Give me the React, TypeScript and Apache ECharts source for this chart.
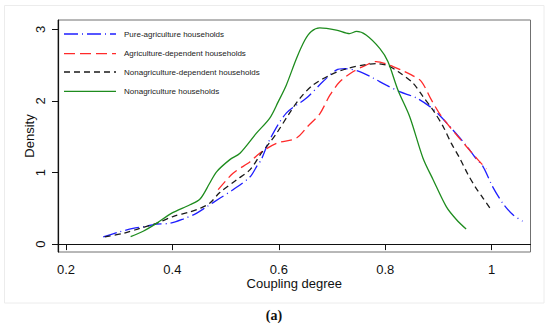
import { useEffect, useRef } from 'react';
import * as echarts from 'echarts';

const xTicks = [0.2, 0.4, 0.6, 0.8, 1];
const yTicks = [0, 1, 2, 3];

const seriesNames = [
  'Pure-agriculture households',
  'Agriculture-dependent households',
  'Nonagriculture-dependent households',
  'Nonagriculture households',
];

const pureAgri = [
  [0.270, 0.10], [0.300, 0.17], [0.326, 0.22], [0.348, 0.245], [0.370, 0.28], [0.395, 0.29],
  [0.420, 0.35], [0.445, 0.43], [0.464, 0.52], [0.489, 0.64], [0.514, 0.76], [0.546, 0.94],
  [0.558, 1.08], [0.567, 1.18], [0.583, 1.46], [0.614, 1.83], [0.652, 2.04], [0.683, 2.27],
  [0.708, 2.43], [0.724, 2.45], [0.752, 2.41], [0.777, 2.32], [0.802, 2.22], [0.827, 2.13],
  [0.859, 2.04], [0.884, 1.92], [0.902, 1.80], [0.924, 1.62], [0.952, 1.38], [0.968, 1.22],
  [0.984, 1.08], [1.002, 0.80], [1.021, 0.57], [1.040, 0.41], [1.058, 0.32],
];

const agriDep = [
  [0.486, 0.76], [0.514, 0.99], [0.546, 1.15], [0.564, 1.27], [0.596, 1.41], [0.633, 1.48],
  [0.655, 1.65], [0.677, 1.82], [0.696, 2.08], [0.715, 2.27], [0.740, 2.41], [0.764, 2.50],
  [0.783, 2.55], [0.808, 2.50], [0.830, 2.43], [0.850, 2.36], [0.868, 2.27], [0.887, 2.01],
  [0.906, 1.78], [0.937, 1.50], [0.974, 1.18], [0.990, 1.05],
];

const nonagriDep = [
  [0.273, 0.10], [0.308, 0.15], [0.339, 0.22], [0.370, 0.29], [0.401, 0.385], [0.433, 0.45],
  [0.452, 0.50], [0.470, 0.57], [0.489, 0.72], [0.521, 0.90], [0.546, 1.04], [0.567, 1.27],
  [0.583, 1.42], [0.596, 1.55], [0.621, 1.84], [0.640, 2.04], [0.664, 2.22], [0.696, 2.36],
  [0.727, 2.45], [0.758, 2.50], [0.783, 2.52], [0.802, 2.50], [0.824, 2.41], [0.852, 2.25],
  [0.871, 2.06], [0.890, 1.87], [0.909, 1.64], [0.924, 1.41], [0.940, 1.20], [0.955, 0.98],
  [0.970, 0.79], [0.984, 0.64], [0.998, 0.49],
];

const nonagri = [
  [0.3215, 0.106], [0.345, 0.18], [0.370, 0.29], [0.398, 0.43], [0.433, 0.55], [0.452, 0.63],
  [0.470, 0.85], [0.483, 1.01], [0.508, 1.18], [0.527, 1.27], [0.558, 1.55], [0.583, 1.76],
  [0.599, 1.99], [0.614, 2.22], [0.633, 2.59], [0.649, 2.85], [0.661, 2.97], [0.677, 3.02],
  [0.708, 2.99], [0.733, 2.94], [0.746, 2.97], [0.764, 2.92], [0.790, 2.73], [0.805, 2.55],
  [0.824, 2.15], [0.846, 1.78], [0.871, 1.20], [0.890, 0.90], [0.915, 0.52], [0.934, 0.34],
  [0.952, 0.21],
];

const seriesData = [pureAgri, agriDep, nonagriDep, nonagri];
const colors = ['#1f1fff', '#ff2a2a', '#1a1a1a', '#1e8c1e'];
const dashes: (number[] | 'solid')[] = [[14, 4, 1, 4], [11, 5], [6, 4], 'solid'];

export default function App() {
  const ref = useRef<HTMLDivElement>(null);
  useEffect(() => {
    document.body.style.margin = '0';
    const chart = echarts.init(ref.current!, null, { renderer: 'svg' });
    const font = 'Liberation Sans, Arial, sans-serif';
    const legendRows = [34, 53.7, 72, 91.3];
    const legendGraphics: any[] = [];
    seriesNames.forEach((name, i) => {
      const d = dashes[i];
      legendGraphics.push({
        type: 'line',
        shape: { x1: 64, y1: legendRows[i], x2: 116, y2: legendRows[i] },
        style: {
          stroke: colors[i],
          lineWidth: 1.3,
          lineDash: d === 'solid' ? null : d,
        },
        z: 10,
      });
      legendGraphics.push({
        type: 'text',
        x: 124,
        y: legendRows[i],
        style: {
          text: name,
          fill: '#222',
          font: `8px ${font}`,
          verticalAlign: 'middle',
          align: 'left',
        },
        z: 10,
      });
    });
    chart.setOption({
      animation: false,
      backgroundColor: '#fff',
      grid: {
        left: 58,
        right: 19.5,
        top: 20,
        bottom: 77,
        show: true,
        borderColor: '#707070',
        borderWidth: 1,
        backgroundColor: 'transparent',
      },
      xAxis: {
        type: 'value',
        min: 0.185,
        max: 1.073,
        name: 'Coupling degree',
        nameLocation: 'middle',
        nameGap: 25,
        nameMoveOverlap: false,
        nameTextStyle: { fontFamily: font, fontSize: 13, lineHeight: 13, color: '#111' },
        axisLine: { show: true, lineStyle: { color: '#111', width: 1.2 } },
        axisTick: { show: true, length: 6, customValues: xTicks, lineStyle: { color: '#111' } },
        axisLabel: {
          customValues: xTicks,
          fontFamily: font,
          fontSize: 13,
          lineHeight: 13,
          color: '#111',
          margin: 11,
          formatter: (v: number) => String(Math.round(v * 10) / 10),
        },
        splitLine: { show: false },
      },
      yAxis: {
        type: 'value',
        min: -0.11,
        max: 3.13,
        name: 'Density',
        nameLocation: 'middle',
        nameGap: 22,
        nameMoveOverlap: false,
        nameTextStyle: { fontFamily: font, fontSize: 13, color: '#111' },
        axisLine: { show: true, lineStyle: { color: '#111', width: 1.2 } },
        axisTick: { show: true, length: 6, customValues: yTicks, lineStyle: { color: '#111' } },
        axisLabel: {
          customValues: yTicks,
          rotate: 90,
          fontFamily: font,
          fontSize: 13,
          color: '#111',
          margin: 11,
          formatter: (v: number) => String(Math.round(v)),
        },
        splitLine: { show: false },
      },
      series: seriesData.map((data, i) => ({
        type: 'line',
        name: seriesNames[i],
        data,
        showSymbol: false,
        smooth: 0.3,
        lineStyle: { color: colors[i], width: 1.3, type: dashes[i] },
        itemStyle: { color: colors[i] },
      })),
      graphic: [
        {
          type: 'rect',
          shape: { x: 4.5, y: 5.5, width: 539.5, height: 297.5 },
          style: { fill: 'none', stroke: '#ececec', lineWidth: 1 },
          z: -1,
        },
        ...legendGraphics,
        {
          type: 'text',
          x: 274,
          y: 315,
          style: {
            text: '(a)',
            fill: '#111',
            font: 'bold 14px Liberation Serif, Times New Roman, serif',
            align: 'center',
            verticalAlign: 'middle',
          },
        },
      ],
    });
    return () => chart.dispose();
  }, []);
  return <div ref={ref} style={{ width: 550, height: 329 }} />;
}
